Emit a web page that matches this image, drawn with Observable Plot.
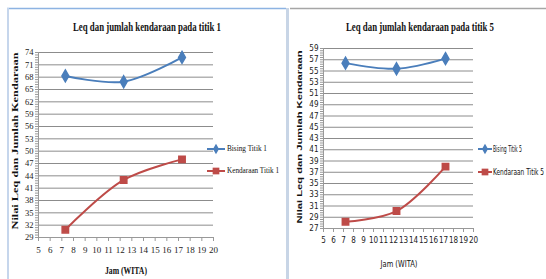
<!DOCTYPE html>
<html>
<head>
<meta charset="utf-8">
<script src="https://cdn.jsdelivr.net/npm/d3@7"></script>
<script src="https://cdn.jsdelivr.net/npm/@observablehq/plot@0.6"></script>
<style>
  html, body { margin: 0; padding: 0; background: #fff; }
  #page { position: relative; width: 546px; height: 279px; overflow: hidden; background: #fff; }
  .plot { position: absolute; top: 0; }
  #overlay { position: absolute; left: 0; top: 0; pointer-events: none; }
</style>
</head>
<body>
<div id="page">
  <div id="p1" class="plot" style="left:0px"></div>
  <div id="p5" class="plot" style="left:290px"></div>
</div>
<script>
// ---- data ----
const jam1 = [7.3, 12.3, 17.3];
const bising1 = [68.3, 66.9, 72.8];
const kendaraan1 = [30.9, 43.0, 48.0];

const jam5 = [7.2, 12.3, 17.2];
const bising5 = [56.4, 55.4, 57.2];
const kendaraan5 = [28.2, 30.1, 38.0];

const xTicks = [5, 6, 7, 8, 9, 10, 11, 12, 13, 14, 15, 16, 17, 18, 19, 20];
const yTicks1 = [29, 32, 35, 38, 41, 44, 47, 50, 53, 56, 59, 62, 65, 68, 71, 74];
const yTicks5 = [27, 29, 31, 33, 35, 37, 39, 41, 43, 45, 47, 49, 51, 53, 55, 57, 59];

const titles = ["Leq dan jumlah  kendaraan pada titik 1", "Leq dan jumlah  kendaraan pada titik 5"];
const yTitle = "Nilai Leq dan  Jumlah Kendaraan";
const xTitle = "Jam (WITA)";
const legend1 = ["Bising Titik 1", "Kendaraan Titik 1"];
const legend5 = ["Bising Titik 5", "Kendaraan Titik 5"];

const BLUE = "#4a7ebb", RED = "#be4b48", GRID = "#8c8c8c";

function chart({jam, bising, kendaraan, yTicks, width, height, mL, mR, mT, mB, font, fontSize, xFontSize}) {
  const yMin = yTicks[0], yMax = yTicks[yTicks.length - 1];
  const step = yTicks[1] - yTicks[0];
  const minor = d3.range(yMin, yMax + 1e-9, step / 5);
  const rows = jam.map((j, i) => ({jam: j, bising: bising[i], kendaraan: kendaraan[i]}));
  return Plot.plot({
    width, height,
    marginLeft: mL, marginRight: mR, marginTop: mT, marginBottom: mB,
    x: {domain: [5, 20]},
    y: {domain: [yMin, yMax]},
    style: {fontFamily: font, fontSize: fontSize + "px", color: "#222", background: "transparent"},
    marks: [
      Plot.ruleY(yTicks, {x1: 5, x2: 20, stroke: GRID, strokeWidth: 1}),
      Plot.axisY(minor, {tickSize: 3, text: null, label: null, stroke: "#999"}),
      Plot.axisY(yTicks, {tickSize: 0, tickPadding: 5, label: null, fontSize: fontSize}),
      Plot.ruleX([5], {stroke: "#999"}),
      Plot.ruleY([yMin], {x1: 5, x2: 20, stroke: "#999"}),
      Plot.axisX(xTicks, {tickSize: 4, tickPadding: 5, label: null, stroke: "#999", fontSize: xFontSize}),
      Plot.line(rows, {x: "jam", y: "bising", stroke: BLUE, strokeWidth: 2, curve: "catmull-rom"}),
      Plot.line(rows, {x: "jam", y: "kendaraan", stroke: RED, strokeWidth: 2, curve: "catmull-rom"}),
      Plot.dot(rows, {x: "jam", y: "bising", symbol: "diamond", r: 3.6, fill: BLUE, stroke: BLUE}),
      Plot.dot(rows, {x: "jam", y: "kendaraan", symbol: "square", r: 3.6, fill: RED, stroke: RED})
    ]
  });
}

document.getElementById("p1").append(chart({
  jam: jam1, bising: bising1, kendaraan: kendaraan1, yTicks: yTicks1,
  width: 290, height: 279, mL: 38, mR: 77, mT: 52, mB: 42,
  font: "'Liberation Serif', serif", fontSize: 8.5, xFontSize: 9
}));
document.getElementById("p5").append(chart({
  jam: jam5, bising: bising5, kendaraan: kendaraan5, yTicks: yTicks5,
  width: 256, height: 279, mL: 33, mR: 73, mT: 48, mB: 51,
  font: "'Liberation Sans Narrow', 'DejaVu Sans Condensed', 'Liberation Sans', sans-serif", fontSize: 8, xFontSize: 8
}));

// ---- overlay: frames, titles, axis titles, legends ----
const svg = d3.select("#page").append("svg").attr("id", "overlay")
  .attr("width", 546).attr("height", 279);

svg.append("line").attr("x1", 7).attr("x2", 286).attr("y1", 8.5).attr("y2", 8.5).attr("stroke", "#8db3e2").attr("stroke-width", 1.5);
svg.append("rect").attr("x", 7).attr("y", 8).attr("width", 2).attr("height", 271).attr("fill", "#c6d6ec");
svg.append("rect").attr("x", 286).attr("y", 8).attr("width", 3).attr("height", 271).attr("fill", "#c8d5e6");
svg.append("line").attr("x1", 290).attr("x2", 546).attr("y1", 8.5).attr("y2", 8.5).attr("stroke", "#a6a6a6").attr("stroke-width", 1.5);

function label(t, x, y, len, {size = 11, family = "'Liberation Serif', serif", weight = "bold", anchor = "middle", rotate = 0} = {}) {
  const el = svg.append("text")
    .attr("x", x).attr("y", y)
    .attr("text-anchor", anchor)
    .attr("dominant-baseline", "middle")
    .attr("font-family", family)
    .attr("font-size", size)
    .attr("font-weight", weight)
    .attr("fill", "#111")
    .attr("textLength", len)
    .attr("lengthAdjust", "spacingAndGlyphs")
    .text(t);
  if (rotate) el.attr("transform", `rotate(${rotate},${x},${y})`);
  return el;
}
const SERIF = "'Liberation Serif', serif";
const NARROW = "'Liberation Sans Narrow', 'DejaVu Sans Condensed', 'Liberation Sans', sans-serif";

label(titles[0], 147, 28, 148, {size: 12});
label(titles[1], 420, 28, 148, {size: 12});
label(yTitle, 16, 141, 177, {size: 8, rotate: -90});
label(yTitle, 300, 137, 173, {size: 7, family: "'Liberation Sans', sans-serif", rotate: -90});
label(xTitle, 126, 272, 42, {size: 10});
label(xTitle, 399, 264, 37, {size: 9, family: NARROW, weight: "normal"});

function legendEntry(x0, x1, y, color, symbol, text, textX, len, family) {
  svg.append("line").attr("x1", x0).attr("x2", x1).attr("y1", y).attr("y2", y).attr("stroke", color).attr("stroke-width", 2);
  const cx = (x0 + x1) / 2;
  const sym = d3.symbol(symbol === "diamond" ? d3.symbolDiamond : d3.symbolSquare, symbol === "diamond" ? 32 : 45);
  svg.append("path").attr("d", sym()).attr("transform", `translate(${cx},${y})`).attr("fill", color);
  label(text, textX, y, len, {size: 9, family, weight: "normal", anchor: "start"});
}
legendEntry(207, 225, 149, BLUE, "diamond", legend1[0], 227, 40, SERIF);
legendEntry(207, 225, 171, RED, "square", legend1[1], 227, 52, SERIF);
legendEntry(478, 492, 149, BLUE, "diamond", legend5[0], 493, 29, NARROW);
legendEntry(478, 492, 172, RED, "square", legend5[1], 493, 51, NARROW);
</script>
</body>
</html>
